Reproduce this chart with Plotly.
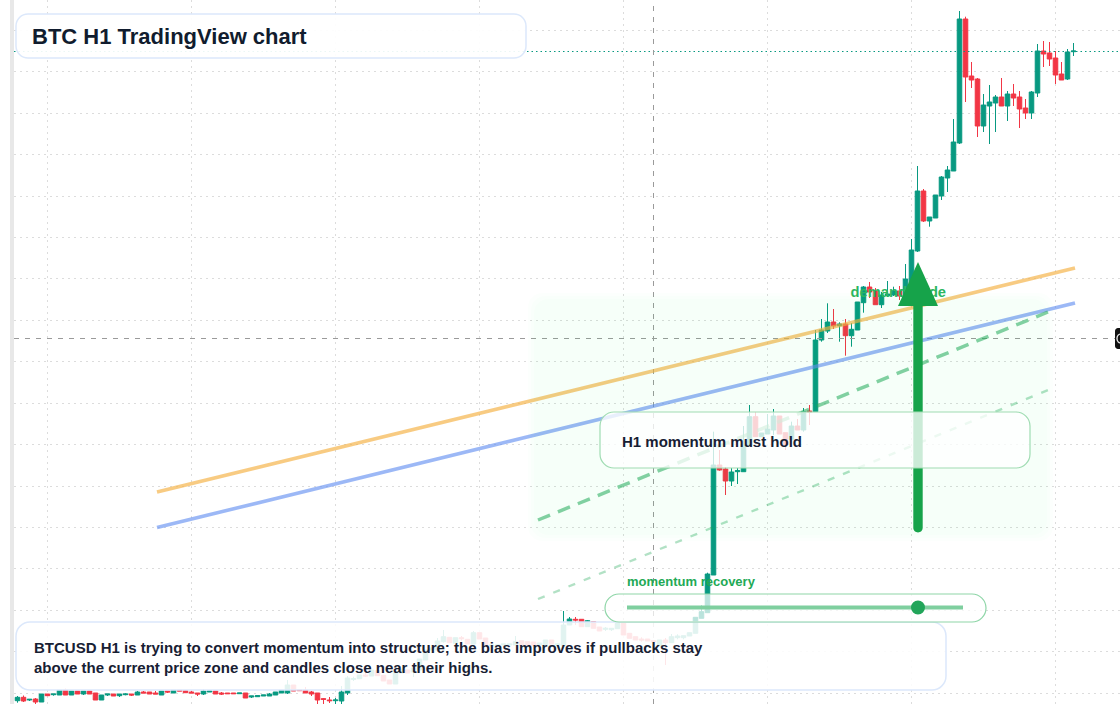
import plotly.graph_objects as go

W, H = 1120, 704
LEFT = 14

open_ = [3.3,6.7,4,5,2,10,9.3,9,14,9,13,10,13,11,4,9,10,8.3,9.3,10,9,12,12,11,9,13,11,14,13.3,12,
 11,10,12,13,11,11,11,10.3,11,7,7.3,8,8,9,11,11,19,14.5,14,12,11,5.3,4,3.3,3,11,24.7,25.3,29,28,
 33.3,28.7,24,20,31,34,32,34,44,54,54,62.3,66.7,60.7,66.3,64.7,60,71.3,66,58,58,59,59,59,63.3,62.3,62,59,58,64,
 59,58,79,84.7,84.7,77.3,82.3,77,74.7,74.3,75.3,80.7,70.7,67.3,65,65,63.3,58,64,61.3,66.3,66.3,68,70.7,85.7,91.3,129,239,235,223,
 232.3,232.3,259,287.3,267.3,270,274,288,271.3,264.7,278,274,293,292.3,364,373,382,378.3,380,368.3,374,401.3,417,413,399.3,408.3,409,413,409,421,
 453,513,483,486,508,526,533,561,685,628,625,578,598,601,607,598,610,607,596,591,611,653,651,646,630,625,652.3]
high_ = [8,8.5,4.7,6,10,10,10,14,15.5,13,13,13,13,11,9,10,10,10,10.7,10,13,13,12,13,13,13,14,14,14,13,
 11,15,13,13,12,11,11,11,11,8,8.3,9,11,12,14,24,19,14.5,17,13,11,6,7,6,18,28,27.3,29,31,34,
 33.3,28.7,24,32.3,35,34,39,45,54,56,66,74,66.7,66.3,68,64.7,73,71.3,66,59,59,60,60,68,63.3,62.3,62,61,64,64,
 60,93,87,87,84.7,84,82.3,77,77,76,80.7,80.7,70.7,67.3,66.7,65,63.3,64,66,70,69.7,68.3,71.3,86.7,99,131.3,272.3,254,237,236,
 236,278,299,292,271,290,295,288,271.3,282.3,285,296,299,374,385,400.7,395,381.7,385,381,402,418,422,416,412,423,417.3,418,440,465,
 538,515,487,509,528,538,585,693,687.3,642,626,610,619,609,626,613,620,613,605,613,660,663,662,653,642,655,661]
low_ = [1.3,2,3,0,2,8.3,8.3,9,9,9,10,9,10,4,4,8,8,7,8.7,8,9,11,10,10,9,11,11,13,11.3,11,
 8,9,12,10,9,10.3,10.3,10.3,6,6,7.3,8,8,9,11,10,13,13.3,11,8,0,0,1,0,0,9,23,25.3,27,28,
 28.3,23,20,20,31,31,27,34,44,54,54,61.3,61.3,60.7,63.3,60,60,65,59,58,58,59,59,59,59,59,58,59,58,60,
 59,58,79,79,77.3,77.3,75.7,73,73,73,75.3,69,65.7,64,62.3,63,62.3,58,39,61.3,64.7,64.7,68,70.7,85.7,91.3,129,233.3,209,218,
 220,232.3,259,267.3,267.3,270,269,270,254,262.3,274,272.3,279,292.3,362.3,371,375,362.3,348.3,357.3,374,391.3,406,399.3,396,407,408,404,408,419,
 452,482,477.3,486,504,512,533,560,602,616,567,572,560,572,598,583,598,576,585,585,607,637,638,620,624,624,648]
close_ = [6.7,3,4.7,2,10,8.3,10,14,9,13,10,13,10,4,9,10,8,10,10,9,12,11,10,10,13,12,14,13,11.3,11,
 10,13,13,10,10,10.3,10.3,11,6,8,8.3,9,10,12,14,19,13,13.3,11,10,4,4.7,3.3,4,12,26,25.3,29,28,34,
 28.3,23,20,32.3,35,31,36,45,54,56,63,67.3,61.3,66.3,65.3,60,71.3,65,59,59,59,60,60,62.3,59,59,58,61,64,60,
 60,79,85,84,77.3,83.3,75.7,73,75.7,75.7,80.7,69,65.7,64,64,63,62.3,64,61.3,67.3,68,68.3,71.3,86.7,92.3,130,239,234,223,232,
 233.3,259,287.3,267.3,271,275,288,270,259,278,274,292.3,291.7,364,374,382,378,380,368.3,374.7,402,417,412,399.3,409,410,413,408,425,454,
 513,483,487,509,527,534,562,685,627,624,578,599,602,607,598,610,606,595,591,612,653,650,645,629,624,652,653]
candle_index = list(range(len(open_)))

# trend lines: candle index / price pairs
orange_x, orange_y = [23.25, 176.25], [212, 436]
blue_x, blue_y = [23.25, 176.25], [176.5, 401]
dash_x, dash_y = [86.75, 171.75], [184, 392]
faint_x, faint_y = [86.75, 171.75], [105, 314]
last_price = 652.5
cross_index = 106
cross_price = 365.5
x_range = [-0.5833, 183.75]
y_range = [0, 704]

title_text = "BTC H1 TradingView chart"
note_text = ("BTCUSD H1 is trying to convert momentum into structure; the bias improves if pullbacks stay<br>"
             "above the current price zone and candles close near their highs.")
hold_text = "H1 momentum must hold"
recovery_text = "momentum recovery"
zone_text = "demand node"

FONT = "Liberation Sans"
GREEN = "#16a34a"
LABEL = "#22a955"
INK = "#172033"


def px(x):
    return (x - LEFT) / (W - LEFT)


def py(y):
    return 1 - y / H


def rounded(x0, y0, x1, y1, r):
    k = 0.45 * r
    p = [
        f"M{px(x0+r)},{py(y0)}", f"L{px(x1-r)},{py(y0)}",
        f"C{px(x1-k)},{py(y0)} {px(x1)},{py(y0+k)} {px(x1)},{py(y0+r)}",
        f"L{px(x1)},{py(y1-r)}",
        f"C{px(x1)},{py(y1-k)} {px(x1-k)},{py(y1)} {px(x1-r)},{py(y1)}",
        f"L{px(x0+r)},{py(y1)}",
        f"C{px(x0+k)},{py(y1)} {px(x0)},{py(y1-k)} {px(x0)},{py(y1-r)}",
        f"L{px(x0)},{py(y0+r)}",
        f"C{px(x0)},{py(y0+k)} {px(x0+k)},{py(y0)} {px(x0+r)},{py(y0)}", "Z",
    ]
    return " ".join(p)


def panel(x0, y0, x1, y1, r, fill, line, lw=1.5):
    return dict(type="path", xref="paper", yref="paper", path=rounded(x0, y0, x1, y1, r),
                fillcolor=fill, line=dict(color=line, width=lw), layer="above")


fig = go.Figure()
fig.add_trace(go.Candlestick(
    x=candle_index, open=open_, high=high_, low=low_, close=close_,
    increasing=dict(line=dict(color="#089981", width=1), fillcolor="#089981"),
    decreasing=dict(line=dict(color="#f23645", width=1), fillcolor="#f23645"),
    whiskerwidth=0, hoverinfo="skip", showlegend=False,
))


def line_trace(x, y, color, width, dash="solid"):
    fig.add_trace(go.Scatter(x=x, y=y, mode="lines", hoverinfo="skip", showlegend=False,
                             line=dict(color=color, width=width, dash=dash)))


line_trace(x_range, [last_price, last_price], "#089981", 1, "1.5px,3px")
line_trace([cross_index, cross_index], y_range, "#9a9a9a", 1, "5px,6px")
line_trace([x_range[0], 183.0], [cross_price, cross_price], "#9a9a9a", 1, "5px,6px")
line_trace(orange_x, orange_y, "rgba(245,176,65,0.66)", 3.6)
line_trace(blue_x, blue_y, "rgba(96,140,240,0.62)", 3.6)
line_trace(dash_x, dash_y, "rgba(34,170,90,0.55)", 3.5, "13px,8.52px")
line_trace(faint_x, faint_y, "rgba(34,170,90,0.35)", 2.4, "7.2px,9.28px")

fig.add_trace(go.Scatter(
    x=[146.8], y=[411], mode="text", text=[zone_text], textposition="middle center",
    textfont=dict(family=FONT, size=14.7, color="rgb(44,182,96)", weight="bold"),
    hoverinfo="skip", showlegend=False,
))

shapes = []
# left edge strip
shapes.append(dict(type="rect", xref="paper", yref="paper", x0=px(10), x1=px(14), y0=0, y1=1,
                   fillcolor="#e8e8e8", line=dict(width=0), layer="above"))
# soft demand zone
for inset in (0, 3, 6):
    shapes.append(panel(528 + inset, 293 + inset, 1053 - inset, 541 - inset, 14,
                        "rgba(40,220,110,0.011)", "rgba(0,0,0,0)", 0))
# arrow shaft and head
shapes.append(dict(type="path", xref="paper", yref="paper",
                   path=f"M{px(913.3)},{py(306)} L{px(922.7)},{py(306)} L{px(922.7)},{py(527.5)} "
                        f"C{px(922.7)},{py(534)} {px(913.3)},{py(534)} {px(913.3)},{py(527.5)} Z",
                   fillcolor=GREEN, line=dict(width=0), layer="above"))
shapes.append(dict(type="path", xref="paper", yref="paper",
                   path=f"M{px(918)},{py(262)} L{px(938)},{py(306)} L{px(898)},{py(306)} Z",
                   fillcolor=GREEN, line=dict(width=0), layer="above"))
# panels
shapes.append(panel(16, 14, 526, 58, 12, "rgba(255,255,255,0.92)", "#dce8fb"))
shapes.append(panel(16, 622, 946, 690, 14, "rgba(255,255,255,0.88)", "#dce8fb"))
shapes.append(panel(600, 412, 1030, 468, 14, "rgba(255,255,255,0.78)", "#9fdcb2", 1.2))
shapes.append(panel(605, 594, 986, 622, 14, "rgba(255,255,255,0.72)", "#8fd6a8", 1.2))
# slider
shapes.append(dict(type="line", xref="paper", yref="paper", x0=px(627), x1=px(963), y0=py(607.5), y1=py(607.5),
                   line=dict(color="#7fcf9f", width=4), layer="above"))
shapes.append(dict(type="circle", xref="paper", yref="paper", x0=px(911), x1=px(925), y0=py(600.5), y1=py(614.5),
                   fillcolor="#22a55a", line=dict(width=0), layer="above"))
# right-hand tag
shapes.append(panel(1115, 328, 1130, 349, 3, "#111111", "#111111", 0))
shapes.append(dict(type="circle", xref="paper", yref="paper", x0=px(1117), x1=px(1125), y0=py(334), y1=py(343),
                   fillcolor="rgba(0,0,0,0)", line=dict(color="#e8e8e8", width=1.4), layer="above"))


def note(x, y, text, size, color):
    return dict(xref="paper", yref="paper", x=px(x - 2), y=py(y - 1), xanchor="left", yanchor="middle",
                text=f"<b>{text}</b>", showarrow=False, align="left",
                font=dict(family=FONT, size=size, color=color))


fig.update_layout(
    width=W, height=H, autosize=False,
    margin=dict(l=LEFT, r=0, t=0, b=0, pad=0),
    paper_bgcolor="#ffffff", plot_bgcolor="#ffffff",
    boxgap=0.13, boxgroupgap=0.13,
    showlegend=False,
    shapes=shapes,
    annotations=[
        note(32, 37.5, title_text, 22, "#111c2e"),
        note(34, 658, note_text, 15, INK),
        note(622, 442, hold_text, 15, INK),
        note(627, 582.5, recovery_text, 13, LABEL),
    ],
    xaxis=dict(range=x_range, showgrid=True, gridcolor="#dcdcdc", griddash="1.5px,4.5px", gridwidth=1,
               tick0=5, dtick=24, showticklabels=False, ticks="", zeroline=False, showline=False,
               rangeslider=dict(visible=False), fixedrange=True),
    yaxis=dict(range=y_range, showgrid=True, gridcolor="#dcdcdc", griddash="1.5px,4.5px", gridwidth=1,
               tick0=10.7, dtick=41.44, showticklabels=False, ticks="", zeroline=False, showline=False,
               fixedrange=True),
)

fig.write_html("out.html", config=dict(displayModeBar=False),
               post_script="document.body.style.margin='0';document.documentElement.style.overflow='hidden';")
